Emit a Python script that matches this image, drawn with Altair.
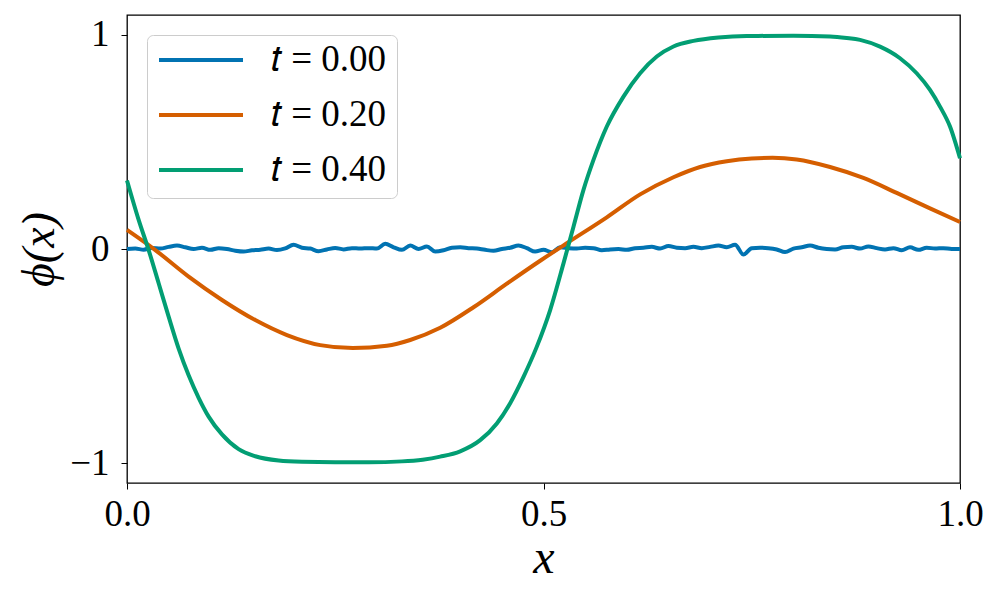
import altair as alt
import pandas as pd

# ---- data ----
series_names = ["𝑡 = 0.00", "𝑡 = 0.20", "𝑡 = 0.40"]
series_colors = ["#0173b2", "#d55e00", "#029e73"]

x_t0 = [i / 100 for i in range(101)]
phi_t0 = [
    0.000, 0.002, -0.003, 0.005, 0.002, 0.010, 0.016, 0.008, 0.000, 0.006,
    -0.004, 0.004, 0.000, -0.008, -0.012, -0.006, -0.003, 0.002, -0.005, 0.003,
    0.020, 0.006, 0.002, -0.010, -0.002, 0.005, -0.002, 0.004, 0.002, 0.004,
    0.002, 0.024, 0.008, -0.004, 0.016, 0.000, 0.012, -0.012, -0.006, 0.006,
    0.008, 0.004, 0.002, -0.004, -0.008, 0.000, 0.006, 0.016, 0.004, -0.012,
    -0.004, -0.015, 0.008, 0.004, 0.002, 0.006, 0.004, -0.006, -0.002, 0.000,
    -0.004, 0.004, 0.006, 0.010, 0.002, 0.014, 0.006, 0.004, 0.010, 0.004,
    0.010, 0.016, 0.008, 0.020, -0.026, 0.004, 0.006, 0.004, -0.002, -0.014,
    0.002, 0.008, 0.016, 0.006, 0.000, -0.002, 0.008, 0.010, 0.002, 0.012,
    0.004, -0.002, 0.004, -0.006, 0.008, -0.004, 0.006, 0.002, 0.004, 0.000,
    0.000,
]

x_t1 = [0.000, 0.034, 0.074, 0.114, 0.154, 0.192, 0.232, 0.271, 0.312, 0.340,
        0.376, 0.416, 0.456, 0.496, 0.528, 0.576, 0.616, 0.656, 0.688, 0.720,
        0.750, 0.775, 0.804, 0.844, 0.884, 0.924, 0.964, 1.000]
phi_t1 = [0.089, -0.005, -0.129, -0.238, -0.332, -0.402, -0.449, -0.463, -0.452, -0.425,
          -0.368, -0.272, -0.162, -0.055, 0.027, 0.148, 0.255, 0.335, 0.383, 0.410,
          0.423, 0.426, 0.418, 0.383, 0.332, 0.262, 0.190, 0.126]

x_t2 = [0.000, 0.014, 0.026, 0.038, 0.050, 0.062, 0.074, 0.086, 0.098, 0.114,
        0.134, 0.154, 0.182, 0.210, 0.250, 0.290, 0.330, 0.355, 0.376, 0.400,
        0.424, 0.444, 0.460, 0.476, 0.492, 0.508, 0.524, 0.536, 0.548, 0.560,
        0.576, 0.596, 0.616, 0.636, 0.656, 0.680, 0.710, 0.744, 0.800, 0.844,
        0.864, 0.880, 0.904, 0.928, 0.948, 0.964, 0.976, 0.988, 1.000]
phi_t2 = [0.320, 0.136, -0.005, -0.160, -0.316, -0.465, -0.590, -0.695, -0.783, -0.866,
          -0.935, -0.968, -0.988, -0.994, -0.996, -0.996, -0.992, -0.984, -0.970, -0.945,
          -0.893, -0.815, -0.720, -0.597, -0.456, -0.285, -0.067, 0.104, 0.276, 0.416,
          0.572, 0.712, 0.821, 0.899, 0.946, 0.972, 0.988, 0.995, 0.996, 0.993,
          0.986, 0.977, 0.945, 0.891, 0.821, 0.743, 0.665, 0.572, 0.424]

x_ticks = [0.0, 0.5, 1.0]
y_ticks = [-1, 0, 1]

# ---- build table ----
rows = []
for name, xs, ys in zip(series_names, [x_t0, x_t1, x_t2], [phi_t0, phi_t1, phi_t2]):
    for xv, yv in zip(xs, ys):
        rows.append({"x": xv, "phi": yv, "series": name})
df = pd.DataFrame(rows)

serif = "Liberation Serif"

chart = (
    alt.Chart(df)
    .mark_line(strokeWidth=4, interpolate="monotone")
    .encode(
        x=alt.X(
            "x:Q",
            scale=alt.Scale(domain=[0, 1], nice=False, zero=False),
            axis=alt.Axis(
                values=x_ticks, format=".1f", title="x", titleFontStyle="italic",
                titleFontSize=48, titleFont=serif, titleFontWeight="normal",
                titlePadding=2, labelPadding=7, labelFlush=False,
            ),
        ),
        y=alt.Y(
            "phi:Q",
            scale=alt.Scale(domain=[-1.093, 1.093], nice=False, zero=False),
            axis=alt.Axis(
                values=y_ticks, format="d", title="ϕ(x)", titleFontStyle="italic",
                titleFontSize=46, titleFont=serif, titleFontWeight="normal",
                titlePadding=6, labelPadding=12, labelFlush=False,
            ),
        ),
        color=alt.Color(
            "series:N",
            scale=alt.Scale(domain=series_names, range=series_colors),
            sort=series_names,
            legend=alt.Legend(
                title=None, orient="top-left", offset=20,
                symbolType="stroke", symbolSize=7056, symbolStrokeWidth=4,
                clipHeight=30, rowPadding=18, labelOffset=26,
                labelFont=serif, labelFontSize=37, labelColor="black",
                padding=10, strokeColor="#cccccc", cornerRadius=6,
                fillColor="white",
            ),
        ),
    )
    .properties(
        width=833,
        height=468,
        autosize=alt.AutoSizeParams(type="none"),
        padding={"left": 119, "top": 7, "right": 30, "bottom": 100},
    )
    .configure_axis(
        grid=False, domain=False, ticks=True, tickSize=6, tickColor="black",
        tickWidth=1, labelFont=serif, labelFontSize=37, labelColor="black",
        titleColor="black",
    )
    .configure_view(stroke="black", strokeWidth=1.3)
)

chart.save("out.html", embed_options={"renderer": "svg", "actions": False})
